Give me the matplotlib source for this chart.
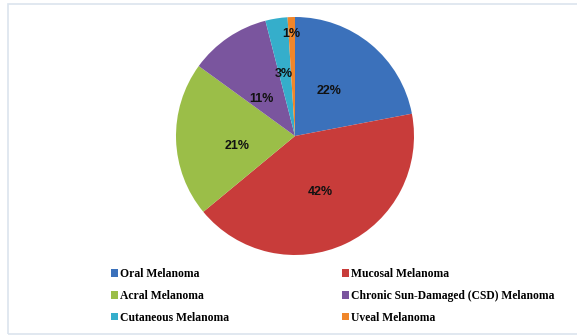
import matplotlib
matplotlib.use("Agg")
import matplotlib.pyplot as plt
from matplotlib.patches import Patch, Rectangle
import numpy as np

# melanoma subtypes, clockwise from 12 o'clock
labels = ["Oral Melanoma", "Mucosal Melanoma", "Acral Melanoma",
          "Chronic Sun-Damaged (CSD) Melanoma", "Cutaneous Melanoma", "Uveal Melanoma"]
shares = [22, 42, 21, 11, 3, 1]
colors = ["#3b71bb", "#c83c3a", "#9bbe48", "#7a559e", "#35aecb", "#f0862a"]

# label placement (fraction of radius, angular nudge in degrees) to mimic the original
lab_r = [0.47, 0.52, 0.49, 0.42, 0.53, 0.86]
lab_shift = [2.5, -1, 8, 7.5, 1, 0.4]

fig = plt.figure(figsize=(5.77, 3.36), dpi=100)
fig.patches.append(Rectangle((8 / 577, 2 / 336), 1.2, 330 / 336, transform=fig.transFigure,
                             fill=False, edgecolor="#dbe4ee", lw=1.2))

ax = fig.add_axes([176 / 577, (336 - 255) / 336, 238 / 577, 238 / 336])
wedges, _ = ax.pie(shares, colors=colors, startangle=90, counterclock=False,
                   wedgeprops=dict(edgecolor="none"))
ax.set_xlim(-1, 1); ax.set_ylim(-1, 1); ax.set_aspect("equal")

for w, v, r, s in zip(wedges, shares, lab_r, lab_shift):
    mid = np.deg2rad((w.theta1 + w.theta2) / 2 + s)
    ax.text(r * np.cos(mid), r * np.sin(mid), f"{v}%", ha="center", va="center",
            fontsize=9, fontweight="bold", family="Liberation Sans", color="#111111")

handles = [Patch(facecolor=c, edgecolor="none") for c in colors]
for col, x in ((0, 111 / 577), (1, 342 / 577)):
    fig.legend(handles[col::2], labels[col::2], loc="upper left",
               bbox_to_anchor=(x, (336 - 268) / 336), frameon=False, ncol=1,
               prop=dict(family="Liberation Serif", weight="bold", size=8.4),
               handlelength=0.6, handleheight=0.6, handletextpad=0.2,
               labelspacing=0.85, borderpad=0, borderaxespad=0)

fig.savefig("out.png", dpi=100, facecolor="white")
